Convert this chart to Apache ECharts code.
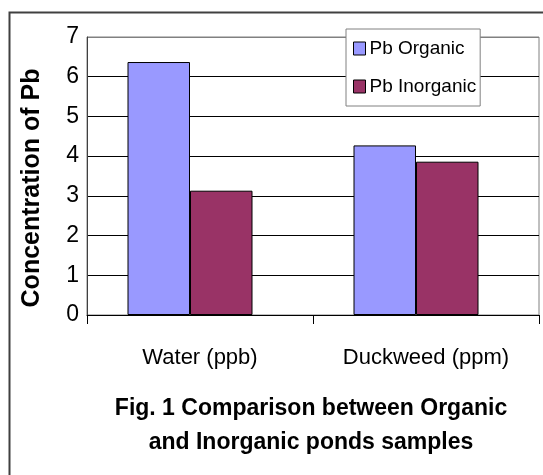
<!DOCTYPE html>
<html>
<head>
<meta charset="utf-8">
<script src="https://cdn.jsdelivr.net/npm/echarts@6/dist/echarts.min.js"></script>
<style>html,body{margin:0;padding:0;background:#fff}#c{width:543px;height:475px}</style>
</head>
<body>
<div id="c"></div>
<script>
var categories = ['Water (ppb)', 'Duckweed (ppm)'];
var pbOrganic = [6.37, 4.27];
var pbInorganic = [3.13, 3.86];
var yTicks = [0, 1, 2, 3, 4, 5, 6, 7];

var chart = echarts.init(document.getElementById('c'), null, {renderer: 'canvas'});
var font = 'Liberation Sans, Arial, sans-serif';
chart.setOption({
  backgroundColor: '#fff',
  animation: false,
  title: {
    text: 'Fig. 1 Comparison between Organic\nand Inorganic ponds samples',
    left: 306, top: 387, textAlign: 'center',
    textStyle: {fontFamily: font, fontWeight: 'bold', fontSize: 23, lineHeight: 34, color: '#000', align: 'center'}
  },
  graphic: [{
    type: 'rect', shape: {x: 9.5, y: 12.5, width: 600, height: 500},
    style: {fill: 'none', stroke: '#404040', lineWidth: 2}, z: 100
  }],
  legend: {
    data: ['Pb Organic', 'Pb Inorganic'],
    orient: 'vertical', left: 346, top: 29,
    padding: [10, 4, 10, 7],
    itemWidth: 12, itemHeight: 13, itemGap: 19,
    backgroundColor: '#fff', borderColor: '#808080', borderWidth: 1,
    icon: 'rect',
    textStyle: {fontFamily: font, fontSize: 19, color: '#000', padding: [0, 0, 0, -1]},
    itemStyle: {borderColor: '#000', borderWidth: 1}
  },
  grid: {left: 87, right: 4, top: 37, bottom: 160, show: true, borderColor: '#808080', borderWidth: 1, backgroundColor: '#fff'},
  xAxis: {
    type: 'category', data: categories,
    axisLine: {lineStyle: {color: '#000', width: 1}},
    axisTick: {show: true, length: 9, lineStyle: {color: '#000'}},
    axisLabel: {fontFamily: font, fontSize: 22, color: '#000', margin: 32}
  },
  yAxis: {
    type: 'value', min: 0, max: 7, interval: 1,
    name: 'Concentration of Pb', nameLocation: 'middle', nameGap: 42,
    nameTextStyle: {fontFamily: font, fontWeight: 'bold', fontSize: 25, color: '#000', padding: [0, 0, 0, -24]},
    axisLine: {show: true, lineStyle: {color: '#404040'}},
    axisTick: {show: false},
    axisLabel: {fontFamily: font, fontSize: 23, color: '#000', margin: 8,
      formatter: function (v) { return yTicks.indexOf(v) >= 0 ? String(v) : ''; }},
    splitLine: {show: true, lineStyle: {color: ['#000','#000','#000','#000','#000','#000','#000','#808080'], width: 1}}
  },
  series: [
    {name: 'Pb Organic', type: 'bar', data: pbOrganic, barGap: '0%', barWidth: 62.5,
     itemStyle: {color: '#9999FF', borderColor: '#000', borderWidth: 1}},
    {name: 'Pb Inorganic', type: 'bar', data: pbInorganic, barGap: '0%', barWidth: 62.5,
     itemStyle: {color: '#993366', borderColor: '#000', borderWidth: 1}},
    {name: 'spacer', type: 'bar', data: [null, null], barGap: '0%', barWidth: 20, silent: true,
     itemStyle: {color: 'transparent'}}
  ]
});
</script>
</body>
</html>
